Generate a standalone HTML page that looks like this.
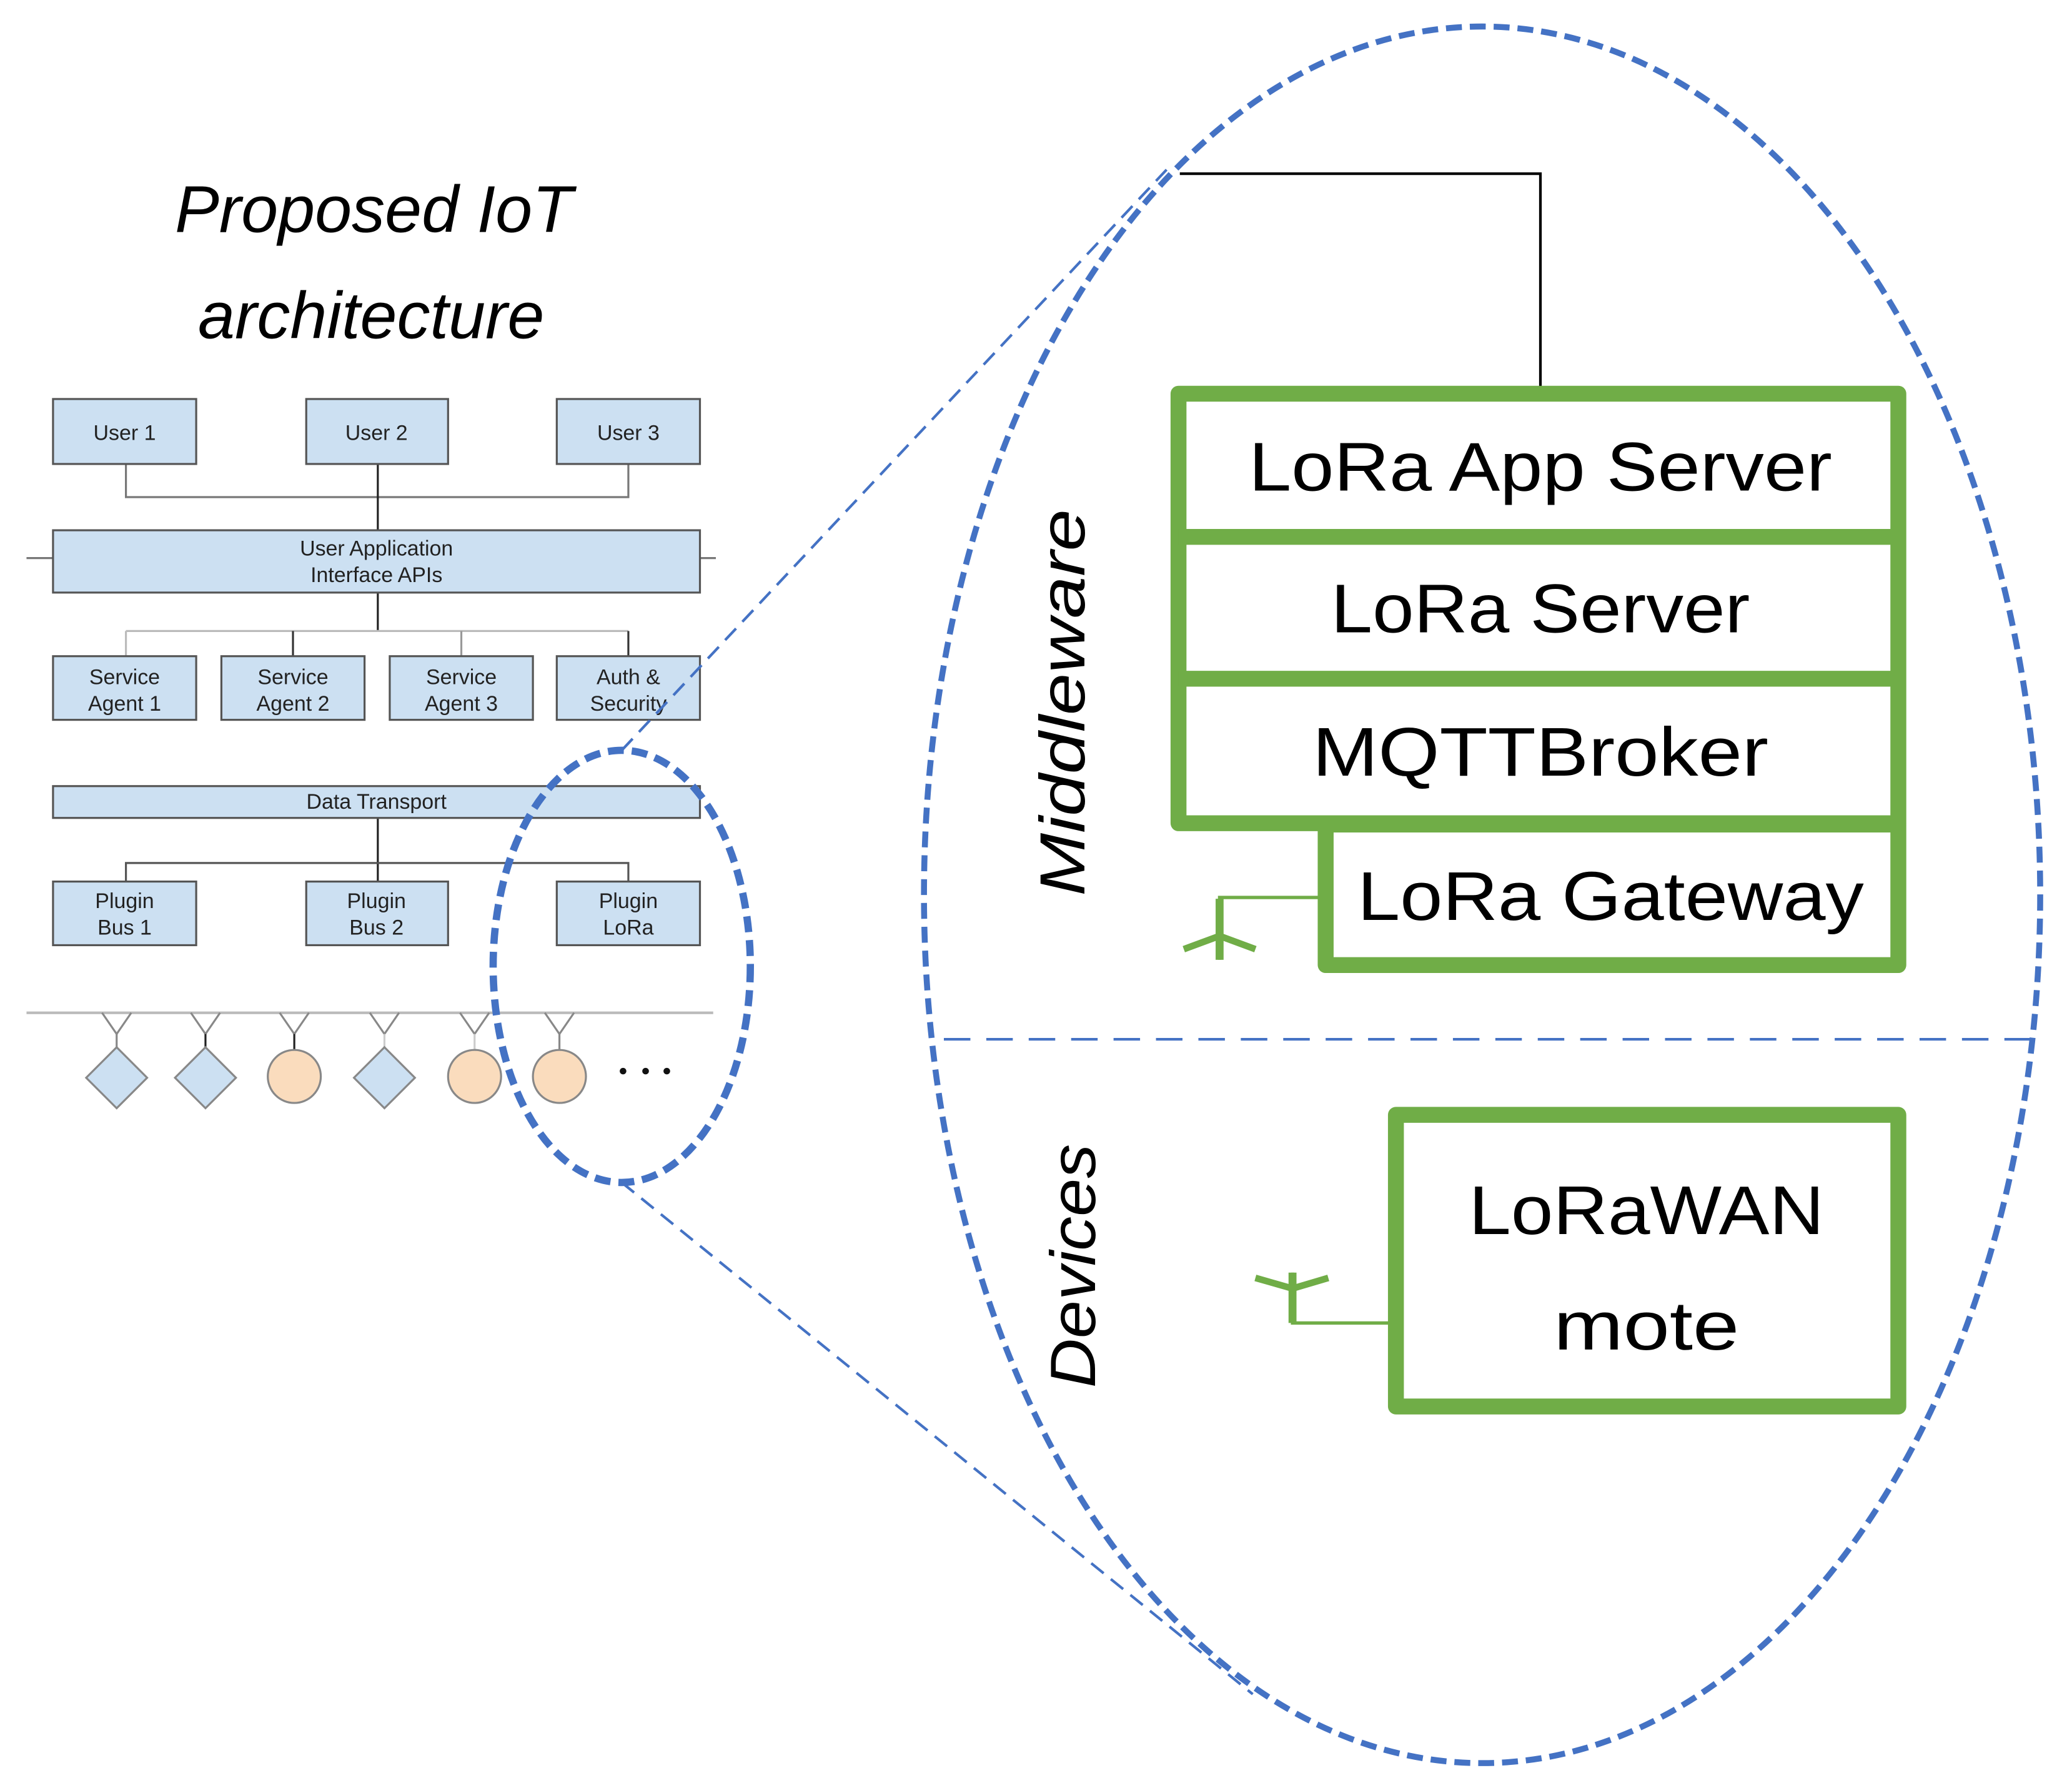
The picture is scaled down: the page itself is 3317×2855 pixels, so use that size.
<!DOCTYPE html>
<html><head><meta charset="utf-8"><style>html,body{margin:0;padding:0;background:#fff}svg{display:block}</style></head>
<body>
<svg width="3317" height="2855" viewBox="0 0 1563 1345" preserveAspectRatio="none" xmlns="http://www.w3.org/2000/svg" font-family="Liberation Sans, sans-serif">
<rect width="1563" height="1345" fill="#fff"/>
<text x="282" y="175" font-size="50" font-style="italic" text-anchor="middle">Proposed IoT</text>
<text x="280" y="255" font-size="50" font-style="italic" text-anchor="middle">architecture</text>
<g stroke="#555" stroke-width="1.5" fill="none">
<polyline points="95,350 95,375 474,375 474,350" stroke="#777"/>
<line x1="285" y1="350" x2="285" y2="400" stroke="#222"/>
<line x1="20" y1="421" x2="40" y2="421" stroke="#777"/>
<line x1="528" y1="421" x2="540" y2="421" stroke="#777"/>
<line x1="285" y1="447" x2="285" y2="476" stroke="#222"/>
<line x1="95" y1="476" x2="474" y2="476" stroke="#bbb"/>
<line x1="95" y1="476" x2="95" y2="495" stroke="#bbb"/>
<line x1="221" y1="476" x2="221" y2="495" stroke="#333"/>
<line x1="348" y1="476" x2="348" y2="495" stroke="#999"/>
<line x1="474" y1="476" x2="474" y2="495" stroke="#333"/>
<line x1="285" y1="617" x2="285" y2="665" stroke="#222"/>
<polyline points="95,665 95,651 474,651 474,665" stroke="#555"/>
<line x1="20" y1="764" x2="538" y2="764" stroke="#bbb" stroke-width="2"/>
</g>
<g fill="#cce0f2" stroke="#555" stroke-width="1.5">
<rect x="40" y="301" width="108" height="49"/><rect x="231" y="301" width="107" height="49"/><rect x="420" y="301" width="108" height="49"/>
<rect x="40" y="400" width="488" height="47"/>
<rect x="40" y="495" width="108" height="48"/><rect x="167" y="495" width="108" height="48"/><rect x="294" y="495" width="108" height="48"/><rect x="420" y="495" width="108" height="48"/>
<rect x="40" y="593" width="488" height="24"/>
<rect x="40" y="665" width="108" height="48"/><rect x="231" y="665" width="107" height="48"/><rect x="420" y="665" width="108" height="48"/>
</g>
<g font-size="16" fill="#222" text-anchor="middle">
<text x="94" y="332">User 1</text><text x="284" y="332">User 2</text><text x="474" y="332">User 3</text>
<text x="284" y="419">User Application</text><text x="284" y="439">Interface APIs</text>
<text x="94" y="516">Service</text><text x="94" y="536">Agent 1</text>
<text x="221" y="516">Service</text><text x="221" y="536">Agent 2</text>
<text x="348" y="516">Service</text><text x="348" y="536">Agent 3</text>
<text x="474" y="516">Auth &amp;</text><text x="474" y="536">Security</text>
<text x="284" y="610">Data Transport</text>
<text x="94" y="685">Plugin</text><text x="94" y="705">Bus 1</text>
<text x="284" y="685">Plugin</text><text x="284" y="705">Bus 2</text>
<text x="474" y="685">Plugin</text><text x="474" y="705">LoRa</text>
</g>
<g stroke="#888" stroke-width="1.5" fill="none">
<polyline points="77,764 88,780 99,764"/><line x1="88" y1="780" x2="88" y2="790"/>
<polyline points="144,764 155,780 166,764"/><line x1="155" y1="780" x2="155" y2="790" stroke="#222"/>
<polyline points="211,764 222,780 233,764"/><line x1="222" y1="780" x2="222" y2="792" stroke="#222"/>
<polyline points="279,764 290,780 301,764"/><line x1="290" y1="780" x2="290" y2="790" stroke="#ccc"/>
<polyline points="347,764 358,780 369,764"/><line x1="358" y1="780" x2="358" y2="792" stroke="#ccc"/>
<polyline points="411,764 422,780 433,764"/><line x1="422" y1="780" x2="422" y2="792"/>
</g>
<g fill="#cce0f2" stroke="#888" stroke-width="1.5">
<polygon points="88,790 111,813 88,836 65,813"/><polygon points="155,790 178,813 155,836 132,813"/><polygon points="290,790 313,813 290,836 267,813"/>
</g>
<g fill="#fadcbd" stroke="#888" stroke-width="1.5">
<circle cx="222" cy="812" r="20"/><circle cx="358" cy="812" r="20"/><circle cx="422" cy="812" r="20"/>
</g>
<g fill="#111"><circle cx="470" cy="808" r="2.5"/><circle cx="487" cy="808" r="2.5"/><circle cx="503" cy="808" r="2.5"/></g>
<g stroke="#4472c4" fill="none">
<line x1="469" y1="566" x2="880" y2="128" stroke-width="2" stroke-dasharray="12,7"/>
<line x1="469" y1="892" x2="945" y2="1278" stroke-width="2" stroke-dasharray="12,7"/>
<ellipse cx="469" cy="729" rx="97" ry="163" stroke-width="5.5" stroke-dasharray="12,6"/>
<ellipse cx="1118" cy="675" rx="421" ry="655" stroke-width="4.5" stroke-dasharray="12,6"/>
<line x1="712" y1="784" x2="1537" y2="784" stroke-width="2" stroke-dasharray="20,12"/>
</g>
<polyline points="890,131 1162,131 1162,295" stroke="#000" stroke-width="2" fill="none"/>
<g stroke="#70ad47" stroke-width="12" fill="#fff" stroke-linejoin="round">
<rect x="1000" y="622" width="432" height="106"/>
<rect x="889" y="297" width="543" height="324"/>
<line x1="889" y1="405" x2="1432" y2="405"/><line x1="889" y1="512" x2="1432" y2="512"/>
<rect x="1053" y="841" width="379" height="220"/>
</g>
<g stroke="#70ad47" fill="none">
<polyline points="996,677 920,677 920,724" stroke-width="2.5"/>
<line x1="920" y1="678" x2="920" y2="724" stroke-width="6"/>
<polyline points="893,716 920,706 947,716" stroke-width="5"/>
<polyline points="1050,998 975,998 975,960" stroke-width="2.5"/>
<line x1="975" y1="960" x2="975" y2="998" stroke-width="6"/>
<polyline points="947,964 975,972 1002,964" stroke-width="5"/>
</g>
<g font-size="52" text-anchor="middle" fill="#000">
<text x="1162" y="370" textLength="440" lengthAdjust="spacingAndGlyphs">LoRa App Server</text>
<text x="1162" y="477" textLength="316" lengthAdjust="spacingAndGlyphs">LoRa Server</text>
<text x="1162" y="585" textLength="344" lengthAdjust="spacingAndGlyphs">MQTTBroker</text>
<text x="1215" y="694" textLength="382" lengthAdjust="spacingAndGlyphs">LoRa Gateway</text>
<text x="1242" y="931" textLength="268" lengthAdjust="spacingAndGlyphs">LoRaWAN</text>
<text x="1242" y="1018" textLength="140" lengthAdjust="spacingAndGlyphs">mote</text>
</g>
<text transform="translate(818,530) rotate(-90)" font-size="48" font-style="italic" text-anchor="middle" textLength="292" lengthAdjust="spacingAndGlyphs">Middleware</text>
<text transform="translate(826,955) rotate(-90)" font-size="48" font-style="italic" text-anchor="middle" textLength="184" lengthAdjust="spacingAndGlyphs">Devices</text>
</svg>
</body></html>
